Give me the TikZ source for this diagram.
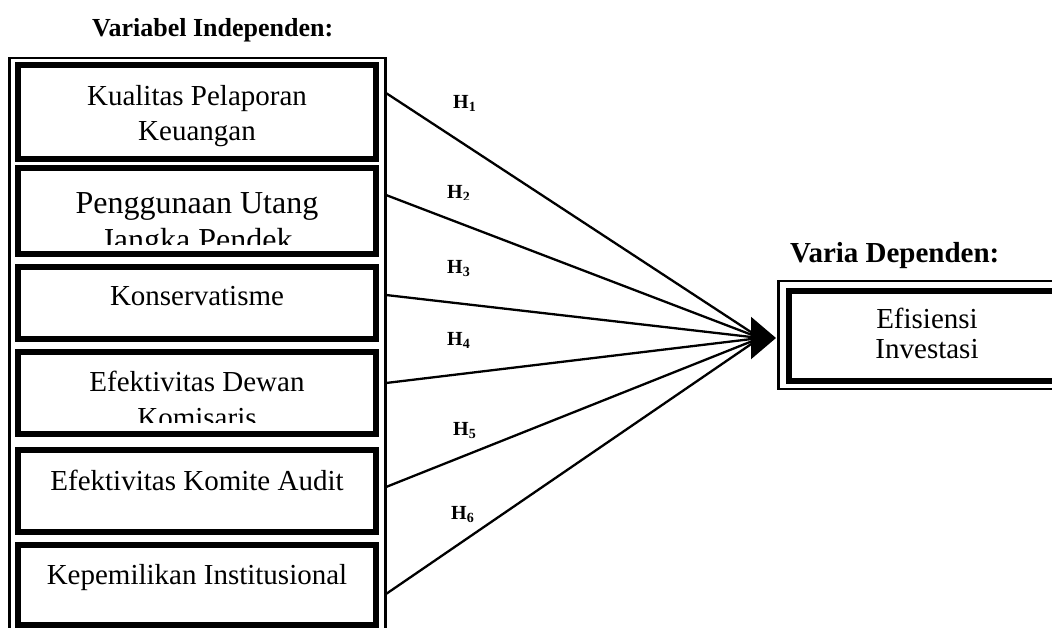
\documentclass[tikz,border=0pt]{standalone}
\usepackage{fontspec}
\setmainfont{Liberation Serif}
\usetikzlibrary{arrows.meta}
\begin{document}
\begin{tikzpicture}[x=1pt,y=-1pt,
  thinbox/.style={draw=black,line width=2.6pt},
  thickbox/.style={draw=black,line width=6pt},
  lbl/.style={anchor=base,inner sep=0pt,font=\fontsize{29}{35}\selectfont},
  lblbig/.style={anchor=base,inner sep=0pt,font=\fontsize{32}{37}\selectfont},
  head/.style={anchor=base west,inner sep=0pt,font=\bfseries},
  hyp/.style={anchor=base west,inner sep=0pt,font=\fontsize{20}{23}\selectfont\bfseries},
  conn/.style={line width=2.3pt}]
\clip (0,0) rectangle (1052,627);
% headings
\node[head,font=\fontsize{26}{30}\selectfont\bfseries] (hind) at (92,36) {Variabel Independen:};
\node[head,font=\fontsize{29}{34}\selectfont\bfseries] (hdep) at (790,262) {Varia Dependen:};
% left outer box
\draw[thinbox] (9.5,58) rectangle (385.5,660);
% inner boxes
\draw[thickbox] (18,65) rectangle (376,158.5);
\draw[thickbox] (18,168) rectangle (376,253.5);
\draw[thickbox] (18,266.5) rectangle (376,338.5);
\draw[thickbox] (18,351.5) rectangle (376,433.5);
\draw[thickbox] (18,450) rectangle (376,531.5);
\draw[thickbox] (18,545) rectangle (376,624.5);
% texts
\node[lbl] (t1a) at (197,105) {Kualitas Pelaporan};
\node[lbl] (t1b) at (197,140) {Keuangan};
\node[lblbig] (t2a) at (197,213) {Penggunaan Utang};
\begin{scope}
\clip (21,171) rectangle (373,244);
\node[lblbig] (t2b) at (197,250) {Jangka Pendek};
\end{scope}
\node[lbl] (t3) at (197,305) {Konservatisme};
\node[lbl] (t4a) at (197,391) {Efektivitas Dewan};
\begin{scope}
\clip (21,355) rectangle (373,422);
\node[lbl] (t4b) at (197,427) {Komisaris};
\end{scope}
\node[lbl] (t5) at (197,490) {Efektivitas Komite Audit};
\node[lbl] (t6) at (197,584) {Kepemilikan Institusional};
% right box
\draw[thinbox] (778.5,281) rectangle (1090,389);
\draw[thickbox] (789,290.5) rectangle (1080,380.5);
\node[lbl] (d1) at (927,328) {Efisiensi};
\node[lbl] (d2) at (927,358) {Investasi};
% connector coordinates
\coordinate (s1) at (386,93);
\coordinate (s2) at (386,195);
\coordinate (s3) at (386,295);
\coordinate (s4) at (386,383);
\coordinate (s5) at (386,487);
\coordinate (s6) at (386,594);
\coordinate (conv) at (760,338);
\coordinate (base) at (748,338);
\coordinate (tip) at (776,338);
\foreach \s in {s1,s2,s3,s4,s5,s6}{\draw[conn] (\s) -- (conv);}
\draw[conn,-{Triangle[length=25pt,width=42pt]}] (base) -- (tip);
% hypothesis labels
\node[hyp] (h1) at (453,108) {H\textsubscript{1}};
\begin{scope}
\clip (440,170) rectangle (480,199.5);
\node[hyp] (h2) at (447,198) {H\textsubscript{2}};
\end{scope}
\node[hyp] (h3) at (447,273) {H\textsubscript{3}};
\node[hyp] (h4) at (447,345) {H\textsubscript{4}};
\node[hyp] (h5) at (453,435) {H\textsubscript{5}};
\node[hyp] (h6) at (451,519) {H\textsubscript{6}};
\end{tikzpicture}
\end{document}
